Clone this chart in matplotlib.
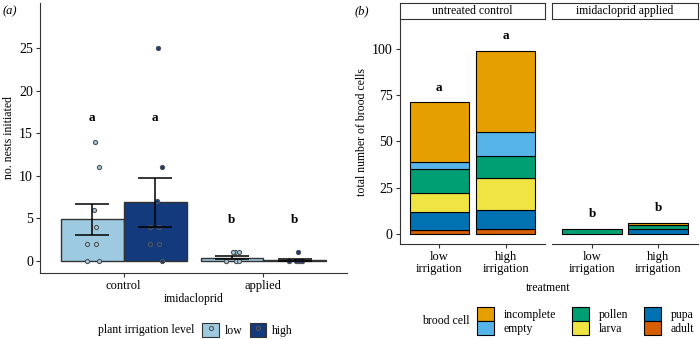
import matplotlib.pyplot as plt
import numpy as np
from matplotlib.patches import Patch
from matplotlib.lines import Line2D

plt.rcParams['font.family'] = ['Liberation Serif', 'DejaVu Serif']
plt.rcParams['axes.linewidth'] = 0.8

# (a) nests initiated per colony
treatments = ["control", "applied"]
irrigation = ["low", "high"]
nests = {
    ("control", "low"): [14, 11, 6, 4, 2, 2, 0, 0],
    ("control", "high"): [25, 11, 7, 4, 4, 2, 2, 0],
    ("applied", "low"): [1, 1, 1, 0, 0, 0, 0, 0],
    ("applied", "high"): [1, 0, 0, 0, 0, 0, 0, 0],
}
letters_a = [["a", "a"], ["b", "b"]]

# (b) brood cells, stacked bottom to top
facets = ["untreated control", "imidacloprid applied"]
bar_labels = ["low\nirrigation", "high\nirrigation"]
cell_types = ["adult", "pupa", "larva", "pollen", "empty", "incomplete"]
adult = [2, 3, 0, 0]
pupa = [10, 10, 0, 3]
larva = [10, 17, 0, 0]
pollen = [13, 12, 3, 2]
empty = [4, 13, 0, 0]
incomplete = [32, 44, 0, 1]
letters_b = ["a", "a", "b", "b"]

blues = {"low": "#9ecae1", "high": "#123a7c"}
cell_colors = {"incomplete": "#E69F00", "empty": "#56B4E9", "pollen": "#009E73",
               "larva": "#F0E442", "pupa": "#0072B2", "adult": "#D55E00"}
axis_col = "#333333"

fig = plt.figure(figsize=(7, 3.39), dpi=100)

# ---------- panel (a) ----------
ax = fig.add_axes([0.057, 0.195, 0.439, 0.796])
w = 0.45
jit = np.array([0.02, 0.05, 0.01, 0.03, -0.04, 0.03, -0.04, 0.05])
for i, t in enumerate(treatments):
    for j, lvl in enumerate(irrigation):
        vals = np.array(nests[(t, lvl)], dtype=float)
        m = vals.mean()
        se = vals.std(ddof=1) / np.sqrt(len(vals))
        xc = i + (j - 0.5) * w
        ax.bar(xc, m, width=w, color=blues[lvl], edgecolor=axis_col, linewidth=1.0, zorder=2)
        ax.scatter(xc + jit[:len(vals)], vals, s=9, facecolor=blues[lvl],
                   edgecolor="#555555", linewidth=0.8, zorder=3)
        ax.errorbar(xc, m, yerr=se, fmt="none", ecolor="black", elinewidth=1.1,
                    capsize=12, capthick=1.1, zorder=4)
        ax.text(xc, 16.8 if letters_a[i][j] == "a" else 4.8, letters_a[i][j],
                ha="center", va="center", fontsize=9.5, fontweight="bold")

ax.set_xlim(-0.6, 1.6)
ax.set_ylim(-1.4, 30.3)
ax.set_xticks([0, 1])
ax.set_xticklabels(treatments)
ax.set_yticks([0, 5, 10, 15, 20, 25])
ax.set_xlabel("imidacloprid", fontsize=8.5, labelpad=1)
ax.set_ylabel("no. nests initiated", fontsize=8.5, labelpad=3)
for s in ["top", "right"]:
    ax.spines[s].set_visible(False)
for s in ["left", "bottom"]:
    ax.spines[s].set_color(axis_col)
ax.tick_params(labelsize=9, color=axis_col, length=3, width=0.8, pad=2)
ax.tick_params(axis="y", labelsize=10)

fig.text(0.003, 0.985, "(a)", fontsize=9, style="italic", va="top")

handles_a = [(Patch(facecolor=blues[l], edgecolor=axis_col, linewidth=0.8),
              Line2D([], [], marker="o", ls="none", markersize=3, markerfacecolor=blues[l],
                     markeredgecolor="#555555", markeredgewidth=0.8)) for l in irrigation]
fig.text(0.277, 0.027, "plant irrigation level", fontsize=8.5, ha="right", va="center")
fig.legend(handles_a, irrigation, loc="center left", bbox_to_anchor=(0.279, 0.027), ncol=2,
           frameon=False, fontsize=8.5, handlelength=1.4, handleheight=1.4,
           handletextpad=0.5, columnspacing=0.6, borderpad=0.1)

# ---------- panel (b) ----------
stack = {"adult": adult, "pupa": pupa, "larva": larva, "pollen": pollen,
         "empty": empty, "incomplete": incomplete}
pan_x = [0.571, 0.789]
pan_w = 0.208
axes_b = []
for k, facet in enumerate(facets):
    axb = fig.add_axes([pan_x[k], 0.280, pan_w, 0.661])
    axes_b.append(axb)
    for j in range(2):
        idx = 2 * k + j
        bottom = 0
        for c in cell_types:
            v = stack[c][idx]
            if v > 0:
                axb.bar(j, v, bottom=bottom, width=0.9, color=cell_colors[c],
                        edgecolor="black", linewidth=0.8)
            bottom += v
        axb.text(j, bottom + 8, letters_b[idx], ha="center", va="center",
                 fontsize=9.5, fontweight="bold")
    axb.set_xlim(-0.6, 1.6)
    axb.set_ylim(-5.4, 115.5)
    axb.set_xticks([0, 1])
    axb.set_xticklabels(bar_labels, linespacing=1.0)
    axb.set_yticks([0, 25, 50, 75, 100])
    for s in ["top", "right"]:
        axb.spines[s].set_visible(False)
    for s in ["left", "bottom"]:
        axb.spines[s].set_color(axis_col)
    axb.tick_params(labelsize=9, color=axis_col, length=3, width=0.8, pad=2)
    axb.tick_params(axis="y", labelsize=10)
    if k == 1:
        axb.spines["left"].set_visible(False)
        axb.tick_params(axis="y", left=False, labelleft=False)

    # facet strip
    strip = fig.add_axes([pan_x[k], 0.944, pan_w, 0.047])
    strip.set_xticks([])
    strip.set_yticks([])
    for s in strip.spines.values():
        s.set_color(axis_col)
        s.set_linewidth(0.8)
    strip.text(0.5, 0.5, facet, ha="center", va="center", fontsize=8.5)

axes_b[0].set_ylabel("total number of brood cells", fontsize=8.5, labelpad=3)
fig.text(0.783, 0.150, "treatment", fontsize=8.5, ha="center", va="center")
fig.text(0.507, 0.985, "(b)", fontsize=9, style="italic", va="top")

legend_order = ["incomplete", "empty", "pollen", "larva", "pupa", "adult"]
handles_b = [Patch(facecolor=cell_colors[c], edgecolor="black", linewidth=0.8) for c in legend_order]
fig.text(0.671, 0.053, "brood cell", fontsize=8.5, ha="right", va="center")
fig.legend(handles_b, legend_order, loc="center left", bbox_to_anchor=(0.672, 0.053), ncol=3,
           frameon=False, fontsize=8.5, handlelength=1.4, handleheight=1.45,
           handletextpad=0.8, columnspacing=1.4, labelspacing=0.0, borderpad=0.1)

fig.savefig("out.png", dpi=100)
